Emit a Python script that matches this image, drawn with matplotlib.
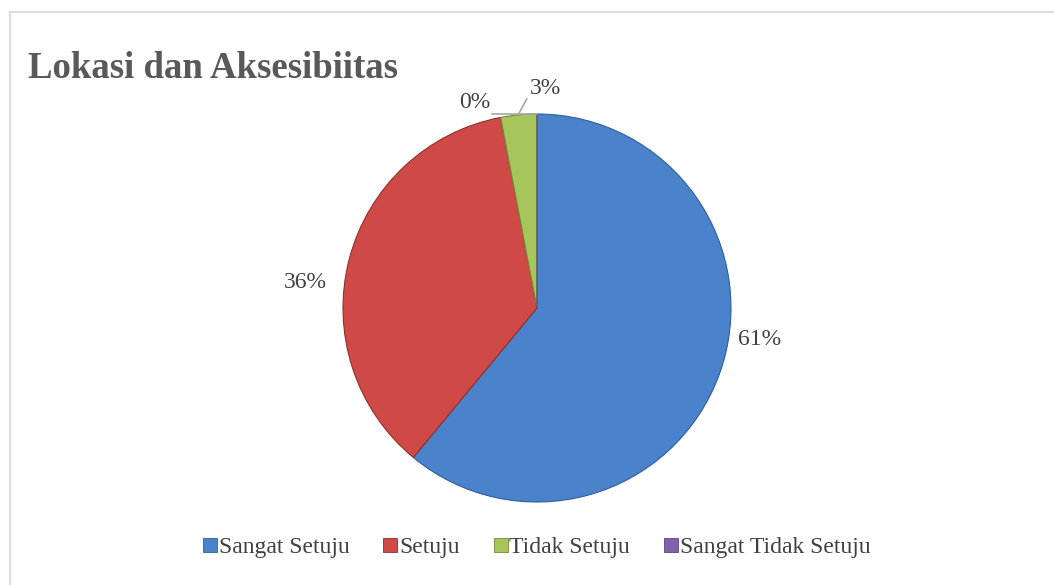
import matplotlib
matplotlib.use("Agg")
import matplotlib.pyplot as plt
import numpy as np
from matplotlib.patches import Rectangle
from matplotlib.lines import Line2D

title = "Lokasi dan Aksesibiitas"
categories = ["Sangat Setuju", "Setuju", "Tidak Setuju", "Sangat Tidak Setuju"]
values = [61, 36, 3, 0]
labels = ["61%", "36%", "3%", "0%"]
colors = ["#4A83CC", "#CF4A47", "#A6C65C", "#7F63A8"]
edge_colors = ["#2F5E99", "#8E2F2C", "#6F8B34", "#5A4580"]

plt.rcParams['font.family'] = ['Liberation Serif', 'DejaVu Serif']

W, H = 1054, 585
fig = plt.figure(figsize=(W / 100, H / 100), dpi=100)
ax = fig.add_axes([0, 0, 1, 1])

cx, cy, r = 537, H - 308, 194
wedges, _ = ax.pie(values, colors=colors, startangle=90, counterclock=False,
                   center=(cx, cy), radius=r,
                   wedgeprops=dict(linewidth=1.2, edgecolor="white"))
for w, ec in zip(wedges, edge_colors):
    w.set_edgecolor(ec)
    w.set_linewidth(0.8)

ax.set_xlim(0, W)
ax.set_ylim(0, H)
ax.set_aspect("equal")
ax.axis("off")

# data labels: anchor at wedge edge (mid-angle), offset for layout
offsets = [(40, 34), (-44, -23), (27, 26), (-62, 11)]
leader = [False, False, True, True]
for w, lab, (ox, oy), ld in zip(wedges, labels, offsets, leader):
    ang = np.deg2rad((w.theta1 + w.theta2) / 2)
    ax_ = cx + r * np.cos(ang)
    ay_ = cy + r * np.sin(ang)
    tx, ty = ax_ + ox, ay_ + oy
    ax.text(tx, ty, lab, ha="center", va="center", fontsize=17, color="#404040")
    if ld:
        if ox < 0:
            ax.plot([tx + 17, ax_], [ty - 11, ay_], color="#A6A6A6", lw=1.2)
        else:
            ax.plot([tx - 19, ax_], [ty - 10, ay_ + 1], color="#A6A6A6", lw=1.2)

# title
fig.text(28 / W, 1 - 78 / H, title, fontsize=26.5, fontweight="bold",
         color="#595959", ha="left", va="baseline")

# border
fig.patches.append(Rectangle((10 / W, -0.01), 1.02, 1 - 12 / H + 0.01,
                             transform=fig.transFigure, fill=False,
                             edgecolor="#D9D9D9", lw=1.3))

handles = [Line2D([], [], marker="s", linestyle="none", markersize=10,
                  markerfacecolor=c, markeredgecolor=e, markeredgewidth=0.6)
           for c, e in zip(colors, edge_colors)]
fig.legend(handles, categories, loc="center", bbox_to_anchor=(537 / W, 1 - 547 / H),
           ncol=4, frameon=False, fontsize=17, handlelength=0.55,
           handletextpad=0.1, columnspacing=1.45, labelcolor="#404040")

fig.savefig("out.png", dpi=100)
